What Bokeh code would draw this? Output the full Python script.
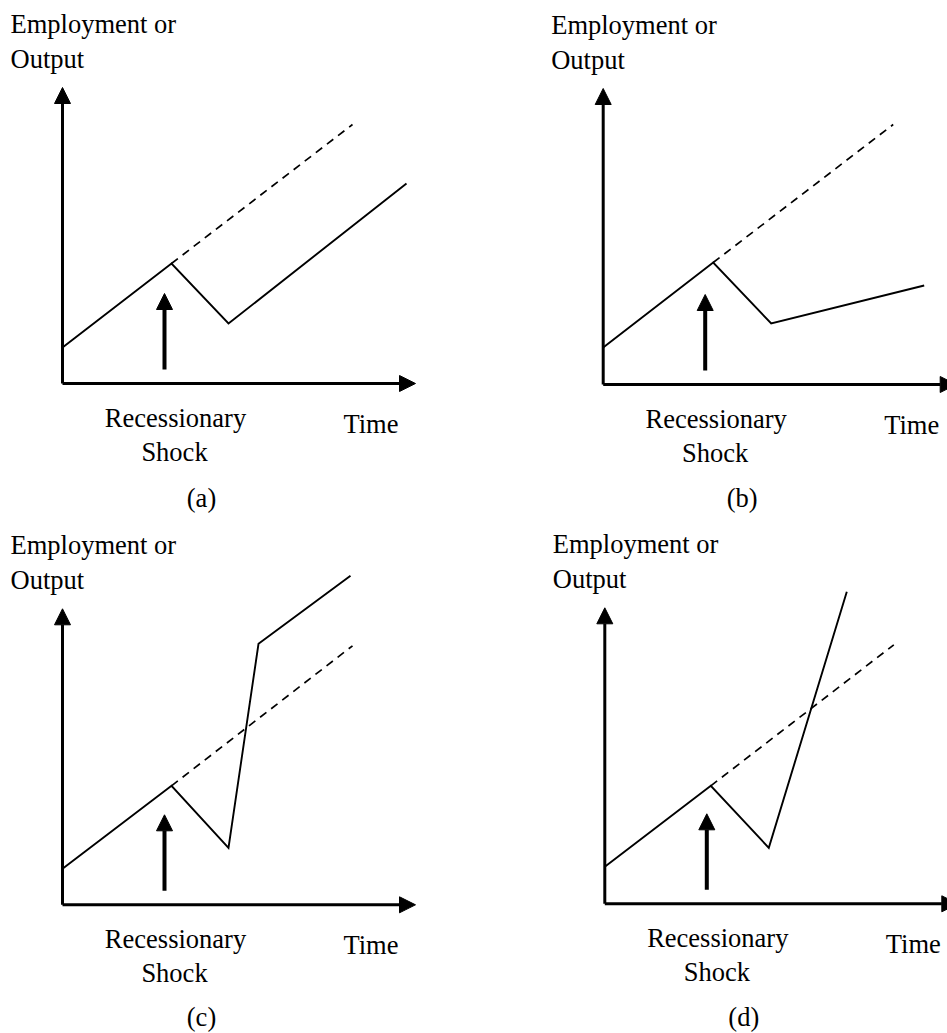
from bokeh.plotting import figure
from bokeh.layouts import gridplot
from bokeh.models import Range1d, Arrow, NormalHead
from bokeh.core.properties import value
from bokeh.embed import file_html
from bokeh.resources import INLINE

# ---------------- data (time / level, origin = axes corner) ----
time_a = [0, 109, 166, 344]
level_a = [36, 120, 60, 200]
trend_time_a = [109, 290]
trend_level_a = [120, 259]

time_b = [0, 110, 168, 321]
level_b = [37, 122, 61, 99]
trend_time_b = [110, 290]
trend_level_b = [122, 260]

time_c = [0, 109, 166, 196, 288]
level_c = [36, 119, 57, 261, 329]
trend_time_c = [109, 290]
trend_level_c = [119, 259]

time_d = [0, 106, 164, 242]
level_d = [37, 118, 56, 312]
trend_time_d = [106, 289]
trend_level_d = [118, 259]

shock_time = 102
shock_from = 14
shock_to = 90
axis_time_end = 353
axis_level_end = 296

y_title = ["Employment or", "Output"]
shock_label = ["Recessionary", "Shock"]
x_title = "Time"
panel_tags = ["(a)", "(b)", "(c)", "(d)"]

# ---------------- layout (page pixels) ----------------
FONT = value("Liberation Serif")
FSIZE = "26.5px"
LIFT = 9  # compensation for the renderer's baseline placement

panels = [
    dict(tag=panel_tags[0], t=time_a, l=level_a, tt=trend_time_a, tl=trend_level_a,
         box=(0, 0, 473, 516), origin=(62, 383), tag_y=-123),
    dict(tag=panel_tags[1], t=time_b, l=level_b, tt=trend_time_b, tl=trend_level_b,
         box=(473, 0, 474, 516), origin=(602.7, 384), tag_y=-122),
    dict(tag=panel_tags[2], t=time_c, l=level_c, tt=trend_time_c, tl=trend_level_c,
         box=(0, 516, 473, 517), origin=(62, 904.3), tag_y=-121.5),
    dict(tag=panel_tags[3], t=time_d, l=level_d, tt=trend_time_d, tl=trend_level_d,
         box=(473, 516, 474, 517), origin=(604.3, 903.3), tag_y=-122.5),
]


def make_panel(pd):
    left, top, w, h = pd["box"]
    ox, oy = pd["origin"]
    p = figure(width=w, height=h, output_backend="svg", toolbar_location=None,
               x_range=Range1d(left - ox, left + w - ox),
               y_range=Range1d(oy - (top + h), oy - top),
               x_axis_type=None, y_axis_type=None, min_border=0,
               outline_line_color=None, background_fill_color="white",
               border_fill_color="white")
    p.grid.visible = False

    head = dict(size=16, fill_color="black", line_color="black", line_width=1)
    # axes with arrow heads
    p.add_layout(Arrow(x_start=0, y_start=0, x_end=axis_time_end, y_end=0,
                       line_width=3, line_color="black", end=NormalHead(**head)))
    p.add_layout(Arrow(x_start=0, y_start=0, x_end=0, y_end=axis_level_end,
                       line_width=3, line_color="black", end=NormalHead(**head)))

    # trend (dashed) and actual path (solid)
    p.line(pd["tt"], pd["tl"], line_color="black", line_width=1.7, line_dash="8 6")
    p.line(pd["t"], pd["l"], line_color="black", line_width=1.9, line_join="miter")

    # shock arrow
    p.add_layout(Arrow(x_start=shock_time, y_start=shock_from, x_end=shock_time, y_end=shock_to,
                       line_width=4, line_color="black", end=NormalHead(**head)))

    # texts
    txt = dict(text_font=FONT, text_font_size=FSIZE, text_baseline="alphabetic",
               text_color="black")
    p.text(x=[-52, -52], y=[351 + LIFT, 316 + LIFT], text=y_title, text_align="left", **txt)
    p.text(x=[113, 112], y=[-43 + LIFT, -77 + LIFT], text=shock_label, text_align="center", **txt)
    p.text(x=[281], y=[-49 + LIFT], text=[x_title], text_align="left", **txt)
    p.text(x=[139], y=[pd["tag_y"] + LIFT], text=[pd["tag"]], text_align="center", **txt)
    return p


figs = [make_panel(pd) for pd in panels]
layout = gridplot([[figs[0], figs[1]], [figs[2], figs[3]]], toolbar_location=None)

open("out.html", "w").write(file_html(layout, INLINE))
